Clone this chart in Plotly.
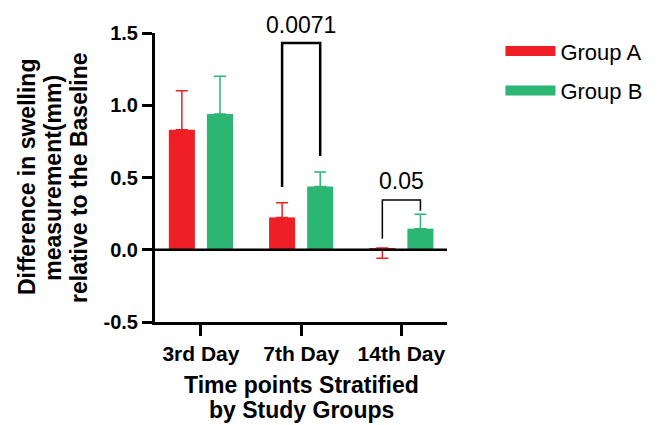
import plotly.graph_objects as go

categories = ["3rd Day", "7th Day", "14th Day"]
group_a = [0.83, 0.224, 0.012]
group_a_err_up = [0.27, 0.102, 0.0]
group_a_err_down = [0.0, 0.0, 0.07]
group_b = [0.94, 0.438, 0.146]
group_b_err_up = [0.26, 0.10, 0.10]
group_b_err_down = [0.0, 0.0, 0.0]
y_ticks = [-0.5, 0.0, 0.5, 1.0, 1.5]
y_tick_labels = ["-0.5", "0.0", "0.5", "1.0", "1.5"]
p_values = ["0.0071", "", "0.05"]
group_names = ["Group A", "Group B"]
y_title_lines = ["Difference in swelling", "measurement(mm)", "relative to the Baseline"]
x_title_lines = ["Time points Stratified", "by Study Groups"]

RED = "#EE1F25"
GREEN = "#2BB673"
FONT = "Arial, Liberation Sans, sans-serif"

x_idx = list(range(len(categories)))

fig = go.Figure()
fig.add_trace(go.Bar(
    x=x_idx, y=group_a, name=group_names[0], width=0.26, offset=-0.32, showlegend=False,
    marker=dict(color=RED, line=dict(width=0)),
    error_y=dict(type="data", symmetric=False, array=group_a_err_up,
                 arrayminus=group_a_err_down, color=RED, thickness=1.5, width=6),
))
fig.add_trace(go.Bar(
    x=x_idx, y=group_b, name=group_names[1], width=0.26, offset=0.06, showlegend=False,
    marker=dict(color=GREEN, line=dict(width=0)),
    error_y=dict(type="data", symmetric=False, array=group_b_err_up,
                 arrayminus=group_b_err_down, color=GREEN, thickness=1.5, width=6),
))
# legend entries drawn as wide rectangles
for name, col, grp in zip(group_names, [RED, GREEN], ["a", "b"]):
    fig.add_trace(go.Scatter(x=[None], y=[None], mode="lines", name=name, legendgroup=grp,
                             line=dict(color=col, width=14), showlegend=True))

XR = [-0.458, 2.455]

# zero line
fig.add_shape(type="line", xref="x", yref="y", x0=XR[0], x1=XR[1], y0=0, y1=0,
              line=dict(color="black", width=2.5), layer="above")

# significance brackets
i = 1
fig.add_shape(type="path", xref="x", yref="y",
              path=f"M {i-0.19},{group_a[i]+0.21} L {i-0.19},1.43 L {i+0.19},1.43 L {i+0.19},{group_b[i]+0.21}",
              line=dict(color="black", width=2.5))
fig.add_annotation(x=i, y=1.43, xref="x", yref="y", text=p_values[0], showarrow=False,
                   yanchor="bottom", yshift=3, font=dict(size=23, color="black", family=FONT))
i = 2
fig.add_shape(type="path", xref="x", yref="y",
              path=f"M {i-0.19},0.076 L {i-0.19},0.345 L {i+0.19},0.345 L {i+0.19},0.27",
              line=dict(color="black", width=1.5))
fig.add_annotation(x=i, y=0.345, xref="x", yref="y", text=p_values[2], showarrow=False,
                   yanchor="bottom", yshift=4, font=dict(size=23, color="black", family=FONT))

# y-axis title (three rotated lines)
for xp, line in zip([-0.44, -0.352, -0.262], y_title_lines):
    fig.add_annotation(x=xp, y=0.5, xref="paper", yref="paper", text=f"<b>{line}</b>",
                       textangle=-90, showarrow=False, xanchor="center", yanchor="middle",
                       font=dict(size=23, color="black", family=FONT))
# x-axis title (two lines)
for yp, line in zip([-0.218, -0.3045], x_title_lines):
    fig.add_annotation(x=0.5, y=yp, xref="paper", yref="paper", text=f"<b>{line}</b>",
                       showarrow=False, xanchor="center", yanchor="middle",
                       font=dict(size=23, color="black", family=FONT))

fig.update_layout(
    width=657, height=417,
    margin=dict(l=147, r=218, t=25, b=103),
    plot_bgcolor="white", paper_bgcolor="white",
    font=dict(family=FONT, color="black"),
    showlegend=True,
    legend=dict(x=1.183, y=1.01, xanchor="left", yanchor="top",
                font=dict(size=22, color="black", family=FONT),
                traceorder="grouped", tracegroupgap=8, itemwidth=50),
    xaxis=dict(range=XR, tickvals=x_idx, ticktext=categories, automargin=False,
               showline=True, linecolor="black", linewidth=3,
               ticks="outside", ticklen=11, tickwidth=2.5, tickcolor="black",
               tickfont=dict(size=21, color="black", family=FONT, weight="bold"),
               showgrid=False, zeroline=False),
    yaxis=dict(range=[-0.5, 1.5], tickvals=y_ticks, ticktext=y_tick_labels, automargin=False,
               showline=True, linecolor="black", linewidth=3,
               ticks="outside", ticklen=10, tickwidth=2.5, tickcolor="black",
               tickfont=dict(size=20, color="black", family=FONT, weight="bold"),
               showgrid=False, zeroline=False),
)

fig.write_html("out.html")
